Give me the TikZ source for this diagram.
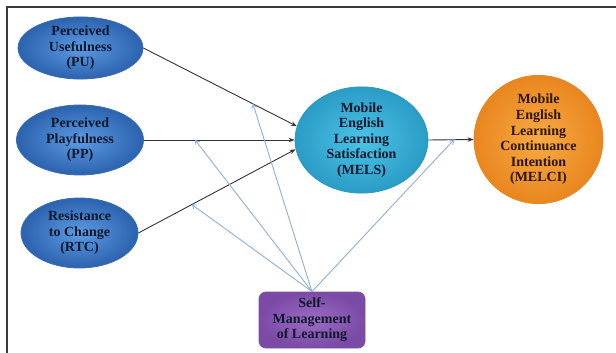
\documentclass[tikz,border=0pt]{standalone}
\usepackage{fontspec}
\setmainfont{Liberation Serif}
\usetikzlibrary{shapes.geometric,arrows.meta}
\definecolor{blueOut}{HTML}{2C62AE}
\definecolor{blueIn}{HTML}{5C9BE2}
\definecolor{blueEdge}{HTML}{3A6DB5}
\definecolor{cyanOut}{HTML}{2A9CC6}
\definecolor{cyanIn}{HTML}{4CC3E6}
\definecolor{cyanEdge}{HTML}{2E98C0}
\definecolor{orOut}{HTML}{E9861E}
\definecolor{orIn}{HTML}{F8AA45}
\definecolor{orEdge}{HTML}{E08A2A}
\definecolor{puOut}{HTML}{7A4AA6}
\definecolor{puIn}{HTML}{9B6CC4}
\definecolor{puEdge}{HTML}{7C55A0}
\definecolor{txtNavy}{HTML}{10182E}
\definecolor{txtBrown}{HTML}{2A1606}
\definecolor{modLine}{HTML}{8CAFD8}
\definecolor{frameGray}{HTML}{3A3A3A}
\tikzset{
  lbl/.style={font=\fontsize{14}{15.6}\selectfont\bfseries, align=center, inner sep=0pt},
  construct/.style={ellipse, lbl, draw=blueEdge, line width=0.8pt, inner color=blueIn, outer color=blueOut, text=txtNavy},
  mediator/.style={ellipse, lbl, draw=cyanEdge, line width=0.8pt, inner color=cyanIn, outer color=cyanOut, text=txtNavy},
  outcome/.style={ellipse, lbl, draw=orEdge, line width=0.8pt, inner color=orIn, outer color=orOut, text=txtBrown},
  moderator/.style={rectangle, rounded corners=7pt, lbl, draw=puEdge, line width=0.8pt, inner color=puIn, outer color=puOut, text=txtNavy},
  effect/.style={draw=black!80, line width=0.9pt, -{Stealth[length=6pt,width=4.5pt]}},
  modarrow/.style={draw=modLine, line width=0.9pt, -{Straight Barb[length=3.5pt,width=5pt]}}
}
\begin{document}
\begin{tikzpicture}[x=1pt,y=-1pt]
\useasboundingbox (0,0) rectangle (616,353);
% frame
\draw[frameGray, line width=1.3pt] (7,353) -- (7,7) -- (616,7);
% nodes
\node[construct, minimum width=125pt, minimum height=56pt] (PU) at (80.5,48) {Perceived\\Usefulness\\(PU)};
\node[construct, minimum width=127pt, minimum height=70pt] (PP) at (80,140) {Perceived\\Playfulness\\(PP)};
\node[construct, minimum width=117pt, minimum height=70pt] (RTC) at (79.5,233) {Resistance\\to Change\\(RTC)};
\node[mediator, minimum width=133pt, minimum height=90pt] (MELS) at (361.5,140) {Mobile\\English\\Learning\\Satisfaction\\(MELS)};
\node[outcome, minimum width=129pt, minimum height=101pt] (MELCI) at (538.5,139.5) {Mobile\\English\\Learning\\Continuance\\Intention\\(MELCI)};
\node[moderator, minimum width=106pt, minimum height=56pt] (SML) at (312,320) {Self-\\Management\\of Learning};
% direct effects
\draw[effect] (PU.east) -- coordinate[pos=0.714] (m1) (MELS.168);
\draw[effect] (PP.east) -- coordinate[pos=0.34] (m2) (MELS.west);
\draw[effect] (RTC.east) -- coordinate[pos=0.34] (m3) (MELS.188);
\draw[effect] (MELS.east) -- coordinate[pos=0.565] (m4) (MELCI.west);
% moderating effects
\draw[modarrow] (SML.north) -- (m1);
\draw[modarrow] (SML.north) -- (m2);
\draw[modarrow] (SML.north) -- (m3);
\draw[modarrow] (SML.north) -- (m4);
\end{tikzpicture}
\end{document}
